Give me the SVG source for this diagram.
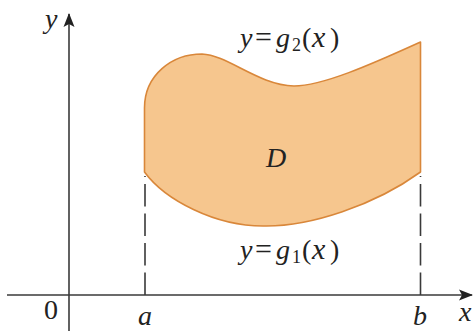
<svg xmlns="http://www.w3.org/2000/svg" width="473" height="331" viewBox="0 0 473 331">
<style>
.ax{stroke:#3a3a3a;stroke-width:1.6;fill:none}
.dash{stroke:#3a3a3a;stroke-width:1.6;fill:none;stroke-dasharray:22.5 7}
.reg{fill:#F6C68E;stroke:#D9873A;stroke-width:1.6;stroke-linejoin:round}
.t{font-family:'Liberation Serif','DejaVu Serif',serif;fill:#222;font-size:28px}
.i{font-style:italic}
</style>
<defs>
<marker id="ah" viewBox="0 0 14 12" refX="13" refY="6" markerWidth="14" markerHeight="12" markerUnits="userSpaceOnUse" orient="auto">
<path d="M0 0.5 L14 6 L0 11.5 L3 6 Z" fill="#222"/>
</marker>
</defs>
<g id="region">
<path class="reg" d="M144.5 172 V108 C144.5 75 172 54 202 54 C228 55 258 85 294 86 C322 86 370 65 420.5 42 V172 C375 205 310 227 263 226 C215 226 165 200 144.5 172 Z"/>
</g>
<g id="connectors">
<path class="ax" d="M7 295 H472" marker-end="url(#ah)"/>
<path class="ax" d="M69 331 V14" marker-end="url(#ah)"/>
<path class="dash" d="M145 295 V176"/>
<path class="dash" d="M420.5 295 V176"/>
</g>
<g id="labels">
<text class="t i" x="45" y="28" font-family="Liberation Serif, serif">y</text>
<text class="t" x="44" y="319" font-size="25" font-family="Liberation Serif, serif">0</text>
<text class="t i" x="138" y="325" font-size="26" font-family="Liberation Serif, serif">a</text>
<text class="t i" x="413" y="325" font-size="26" font-family="Liberation Serif, serif">b</text>
<text class="t i" x="459" y="321" font-size="26" font-family="Liberation Serif, serif">x</text>
<text class="t i" x="266" y="167" font-family="Liberation Serif, serif">D</text>
<text class="t" y="47" font-family="Liberation Serif, serif"><tspan class="i" x="240">y</tspan><tspan x="255" font-size="30">=</tspan><tspan class="i" x="276">g</tspan><tspan x="292" y="51" font-size="18">2</tspan><tspan x="302" y="47">(</tspan><tspan class="i" x="312" font-size="30">x</tspan><tspan x="330">)</tspan></text>
<text class="t" y="259" font-family="Liberation Serif, serif"><tspan class="i" x="240">y</tspan><tspan x="255" font-size="30">=</tspan><tspan class="i" x="276">g</tspan><tspan x="292" y="263" font-size="18">1</tspan><tspan x="302" y="259">(</tspan><tspan class="i" x="312" font-size="30">x</tspan><tspan x="330">)</tspan></text>
</g>
</svg>
